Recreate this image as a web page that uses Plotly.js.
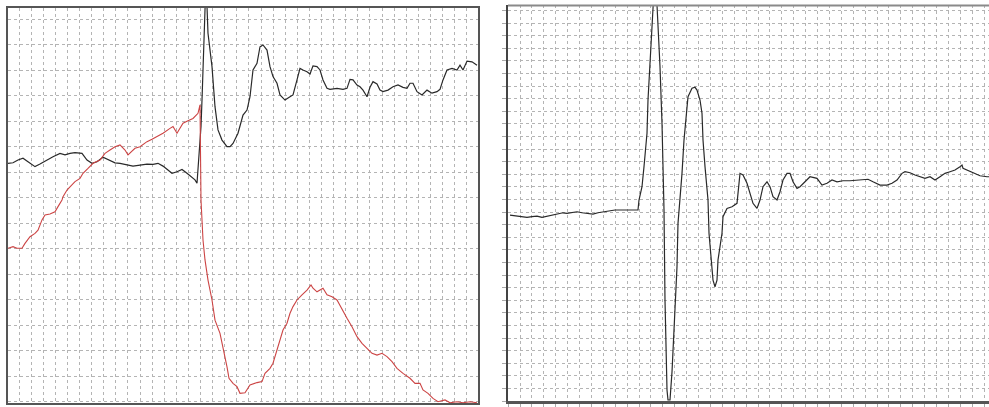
<!DOCTYPE html>
<html>
<head>
<meta charset="utf-8">
<script src="https://cdn.plot.ly/plotly-3.0.1.min.js"></script>
<style>html,body{margin:0;padding:0;background:#fff;}#chart{width:989px;height:407px;}</style>
</head>
<body>
<div id="chart"></div>
<script>
// Left panel, black trace (sample index, amplitude in grid divisions)
const leftBlackX = [0,5,10,15,20,27,32,39,45,52,57,62,67,74,79,84,89,95,102,107,112,119,125,132,139,145,150,155,160,164,169,174,179,184,187,189,190,191,193,194,195,196,197,198,200,204,207,210,214,219,222,225,230,235,239,242,245,249,252,255,259,262,265,269,272,277,282,285,289,292,295,299,302,305,309,312,315,319,322,329,335,339,342,345,349,352,355,359,362,365,369,372,375,380,385,390,395,399,402,405,409,414,419,424,429,432,435,439,444,449,452,455,459,464,469];
const leftBlackY = [9.40,9.42,9.53,9.60,9.46,9.27,9.37,9.53,9.66,9.79,9.73,9.79,9.82,9.79,9.53,9.40,9.46,9.64,9.53,9.42,9.40,9.33,9.29,9.33,9.37,9.36,9.40,9.29,9.14,9.01,9.07,9.16,9.01,8.87,8.75,8.62,9.14,10.05,10.84,11.88,13.19,14.50,15.54,16.6,14.50,13.19,11.62,10.71,10.31,10.05,10.05,10.18,10.58,11.29,11.49,12.01,13.06,13.32,13.97,14.04,13.84,13.19,12.80,12.54,12.08,11.88,12.01,12.08,12.67,13.12,13.06,12.99,12.90,13.22,13.19,13.06,12.67,12.34,12.30,12.34,12.30,12.34,12.69,12.67,12.47,12.40,12.27,12.01,12.38,12.60,12.51,12.27,12.21,12.27,12.40,12.47,12.38,12.34,12.54,12.54,12.21,12.08,12.27,12.15,12.21,12.30,12.67,13.06,13.12,13.06,13.25,13.06,13.41,13.38,13.25];

// Left panel, red trace
const leftRedX = [0,5,9,14,17,22,27,30,34,37,42,47,50,54,55,59,62,67,72,75,80,85,92,97,102,107,112,117,120,124,127,132,139,144,149,155,162,165,169,172,175,180,185,190,192,193,194,195,197,200,204,207,212,215,219,221,225,229,232,237,242,249,254,257,262,265,269,272,275,279,282,285,289,294,299,303,305,309,312,315,319,324,329,334,339,344,349,354,359,364,369,374,379,384,389,395,402,407,412,415,420,425,430,437,442,449,455,462,469];
const leftRedY = [6.07,6.13,6.07,6.07,6.26,6.52,6.65,6.78,7.18,7.37,7.41,7.50,7.70,7.96,8.09,8.35,8.48,8.68,8.81,9.01,9.20,9.40,9.53,9.79,9.92,10.05,10.12,9.92,9.73,9.86,9.99,10.05,10.25,10.34,10.44,10.58,10.77,10.84,10.58,10.77,10.97,11.07,11.16,11.36,11.69,7.96,7.18,6.39,5.61,4.82,4.04,3.25,2.73,2.21,1.42,0.97,0.77,0.64,0.38,0.40,0.71,0.80,0.84,1.16,1.36,1.56,2.08,2.47,2.86,3.13,3.52,3.78,4.04,4.24,4.43,4.63,4.50,4.36,4.43,4.50,4.24,4.17,4.04,3.65,3.32,2.99,2.60,2.34,2.15,1.95,1.88,1.95,1.82,1.62,1.36,1.16,0.97,0.77,0.77,0.51,0.38,0.18,0.05,0.12,0.01,0.05,0.01,0.05,0.01];

// Right panel, black trace
const rightX = [2,7,14,19,24,29,34,39,44,50,55,59,64,69,74,80,85,90,97,102,107,114,120,125,130,131,134,136,139,140,142,144,145,146,149,150,152,154,155,156,157,158,159,160,162,164,165,167,169,170,172,174,176,179,180,184,187,189,192,194,195,197,200,201,204,205,207,209,210,214,215,219,224,229,232,235,239,242,245,249,252,255,259,262,265,269,272,275,279,282,285,289,292,297,302,309,314,319,324,329,335,342,349,355,360,365,372,379,384,389,394,397,402,407,412,417,422,427,432,437,442,447,452,454,455,459,462,467,472,479,481];
const rightY = [14.76,14.71,14.63,14.58,14.63,14.68,14.58,14.68,14.76,14.84,14.94,14.90,14.94,15.02,14.94,14.90,14.84,14.94,15.02,15.10,15.16,15.16,15.16,15.16,15.16,15.95,17.01,18.60,21.25,23.89,26.53,29.71,31.43,32.6,31.43,30.10,26.53,22.04,18.60,15.16,8.02,4.05,0.87,0.08,0.08,2.30,4.05,8.02,10.66,14.10,15.95,18.07,20.71,23.10,24.15,24.82,24.90,24.68,23.89,22.83,20.71,18.60,15.95,13.31,10.66,9.60,9.07,9.60,11.19,13.31,14.63,15.29,15.42,15.69,18.07,17.94,17.28,16.48,15.69,15.29,15.95,17.01,17.40,17.01,16.21,15.95,16.61,17.54,18.07,18.07,17.40,16.88,17.01,17.40,17.80,17.67,17.14,17.28,17.54,17.40,17.48,17.48,17.54,17.54,17.60,17.40,17.14,17.14,17.28,17.54,18.07,18.20,18.12,17.94,17.80,17.67,17.80,17.54,17.80,18.07,18.20,18.33,18.60,18.73,18.47,18.33,18.20,18.07,17.88,17.80,17.80];

const W = 989, H = 407;
const gridCol = '#b4b4b4';

const traces = [
  {x: leftBlackX, y: leftBlackY, type: 'scatter', mode: 'lines', line: {color: '#2a2a2a', width: 1.2}, xaxis: 'x', yaxis: 'y', hoverinfo: 'skip'},
  {x: leftRedX, y: leftRedY, type: 'scatter', mode: 'lines', line: {color: '#cc4444', width: 1.1}, xaxis: 'x', yaxis: 'y', hoverinfo: 'skip'},
  {x: rightX, y: rightY, type: 'scatter', mode: 'lines', line: {color: '#2a2a2a', width: 1.2}, xaxis: 'x2', yaxis: 'y2', hoverinfo: 'skip'}
];

const axBase = {showticklabels: false, zeroline: false, showgrid: true, gridcolor: gridCol, griddash: 'dot', gridwidth: 1, fixedrange: true};

const layout = {
  width: W, height: H,
  margin: {l: 0, r: 0, t: 0, b: 0, pad: 0},
  paper_bgcolor: '#fff', plot_bgcolor: '#fff',
  showlegend: false,
  xaxis: Object.assign({}, axBase, {domain: [8/W, 478/W], range: [0, 470], tick0: 11, dtick: 12.1, showline: true, mirror: true, linecolor: '#555', linewidth: 2, ticks: ''}),
  yaxis: Object.assign({}, axBase, {domain: [4/H, (H-7.75)/H], range: [0, 15.5], tick0: 0.05, dtick: 1, showline: true, mirror: true, linecolor: '#555', linewidth: 2, ticks: ''}),
  xaxis2: Object.assign({}, axBase, {anchor: 'y2', domain: [508/W, 1], range: [0, 481], tick0: 12, dtick: 11.9, showline: true, linecolor: '#555', linewidth: 3, ticks: 'outside', ticklen: 3, tickcolor: '#aaa'}),
  yaxis2: Object.assign({}, axBase, {anchor: 'x2', domain: [6/H, (H-5.4)/H], range: [0, 31.4], tick0: 0, dtick: 1, showline: true, linecolor: '#444', linewidth: 2, ticks: 'outside', ticklen: 4, tickcolor: '#aaa'}),
  shapes: [
    {type: 'line', xref: 'paper', yref: 'paper', x0: 508/W, x1: 1, y0: (H-5.4)/H, y1: (H-5.4)/H, line: {color: '#8a8a8a', width: 2}}
  ]
};

Plotly.newPlot('chart', traces, layout, {staticPlot: true, displayModeBar: false});
</script>
</body>
</html>
